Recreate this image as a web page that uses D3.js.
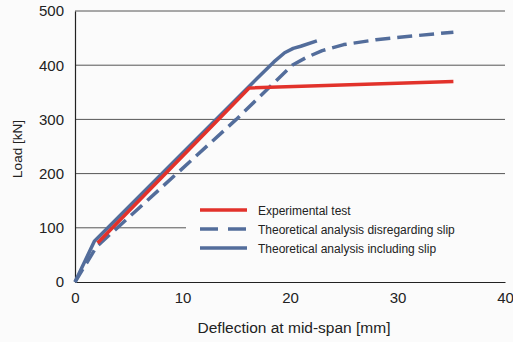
<!DOCTYPE html>
<html>
<head>
<meta charset="utf-8" />
<title>Load - deflection</title>
<style>
body { margin: 0; background: #fbfbfb; }
svg { display: block; font-family: "Liberation Sans", Arial, sans-serif; }
</style>
</head>
<body>
<div id="graph"></div>
<script src="https://d3js.org/d3.v7.min.js"></script>
<script>
// values: [deflection mm, load kN]
var experimental = [[2.1, 72], [16.2, 358], [35.2, 370]];
var disregardingSlip = [[0, 0], [2, 65], [15, 300], [20.2, 400], [21.5, 414], [23, 427],
                        [25, 438], [28, 447], [32, 455], [35.2, 461]];
var includingSlip = [[0, 0], [1.8, 75], [17, 377], [18.5, 406], [19.5, 423], [20.3, 431], [21, 435], [22.5, 445]];
var xTicks = [0, 10, 20, 30, 40];
var yTicks = [0, 100, 200, 300, 400, 500];
var seriesNames = ["Experimental test", "Theoretical analysis disregarding slip", "Theoretical analysis including slip"];

var width = 513, height = 342;
var red = "#e2322b", blue = "#536d9b";

var svg = d3.select("#graph").append("svg")
    .attr("width", width)
    .attr("height", height);

var x = d3.scaleLinear().domain([0, 40]).range([75, 505]);
var y = d3.scaleLinear().domain([0, 500]).range([282, 11]);

// gridlines
svg.append("g").selectAll("line")
    .data(yTicks.slice(1))
    .enter().append("line")
    .attr("x1", x(0)).attr("x2", x(40))
    .attr("y1", d => y(d)).attr("y2", d => y(d))
    .style("stroke", "#555").style("stroke-width", 1);

// axes
svg.append("g")
    .attr("transform", "translate(0," + y(0) + ")")
    .call(d3.axisBottom(x).tickValues(xTicks).tickSize(0).tickPadding(10))
    .call(g => g.select(".domain").style("stroke", "#222").style("stroke-width", 1.2))
    .selectAll("text").style("font-size", "15px").style("fill", "#222")
    .style("font-family", "'Liberation Sans', Arial, sans-serif");

svg.append("g")
    .attr("transform", "translate(" + x(0) + ",0)")
    .call(d3.axisLeft(y).tickValues(yTicks).tickSize(0).tickPadding(11))
    .call(g => g.select(".domain").style("stroke", "#222").style("stroke-width", 1.2))
    .selectAll("text").style("font-size", "15px").style("fill", "#222")
    .style("font-family", "'Liberation Sans', Arial, sans-serif");

svg.append("text")
    .attr("x", 294).attr("y", 333)
    .attr("text-anchor", "middle")
    .style("font-size", "15.5px").style("fill", "#222")
    .text("Deflection at mid-span [mm]");

svg.append("text")
    .attr("transform", "translate(22,149) rotate(-90)")
    .attr("text-anchor", "middle")
    .style("font-size", "13.5px").style("fill", "#222")
    .text("Load [kN]");

// legend background hides the gridline behind it
svg.append("rect")
    .attr("x", 186).attr("y", 196)
    .attr("width", 319).attr("height", 64)
    .style("fill", "#fbfbfb");

var line = d3.line().x(d => x(d[0])).y(d => y(d[1]));

var series = [
    {name: seriesNames[1], data: disregardingSlip, color: blue, dash: "15,7"},
    {name: seriesNames[2], data: includingSlip, color: blue, dash: null},
    {name: seriesNames[0], data: experimental, color: red, dash: null}
];

svg.append("g").selectAll("path")
    .data(series)
    .enter().append("path")
    .attr("d", d => line(d.data))
    .style("fill", "none")
    .style("stroke", d => d.color)
    .style("stroke-width", 3.5)
    .style("stroke-linejoin", "round")
    .style("stroke-dasharray", d => d.dash);

var legendItems = [
    {name: seriesNames[0], color: red, dash: null},
    {name: seriesNames[1], color: blue, dash: "18,10"},
    {name: seriesNames[2], color: blue, dash: null}
];

var legend = svg.append("g").selectAll("g")
    .data(legendItems)
    .enter().append("g")
    .attr("transform", (d, i) => "translate(200," + (210 + i * 19) + ")");

legend.append("line")
    .attr("x1", 0).attr("x2", 47)
    .style("stroke", d => d.color)
    .style("stroke-width", 3.5)
    .style("stroke-dasharray", d => d.dash);

legend.append("text")
    .attr("x", 58).attr("y", 4.5)
    .style("font-size", "12px").style("fill", "#222")
    .text(d => d.name);
</script>
</body>
</html>
